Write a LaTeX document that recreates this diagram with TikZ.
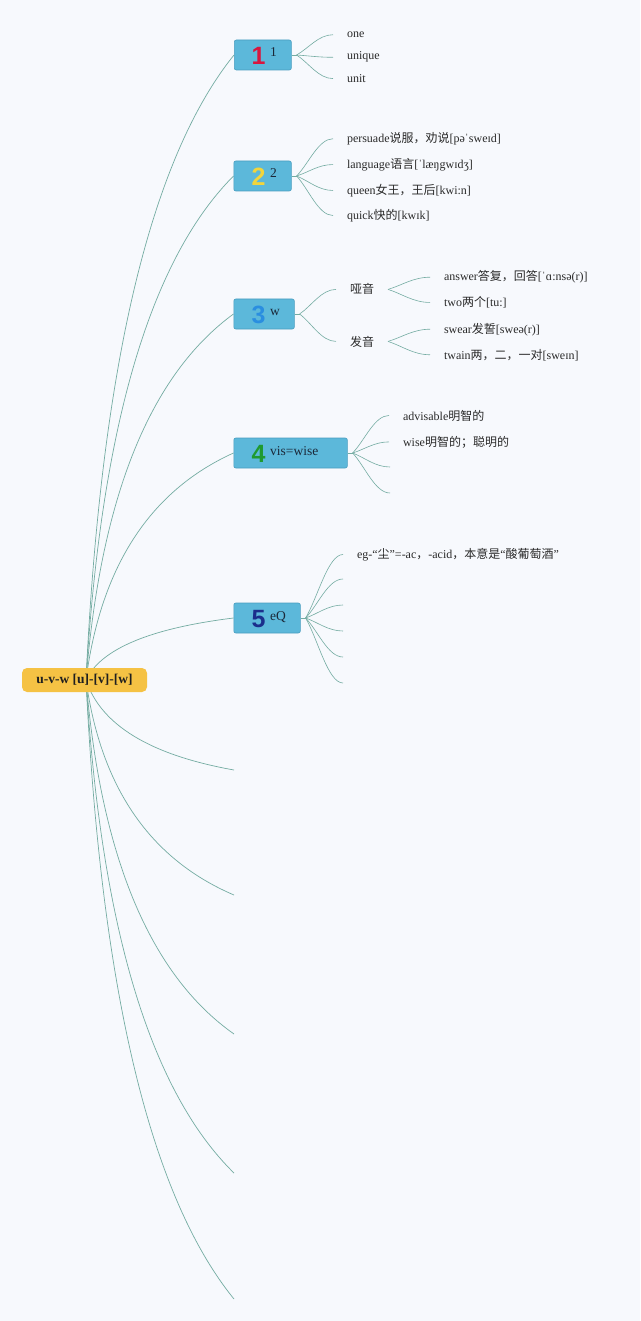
\documentclass[tikz,border=0pt]{standalone}
\usepackage{fontspec}
\setmainfont{Liberation Serif}
\newfontfamily\cjk{Noto Sans CJK SC}
\newfontfamily\digitfont{Liberation Sans}
\usetikzlibrary{calc}
\pgfdeclarelayer{bg}
\pgfdeclarelayer{edges}
\pgfsetlayers{bg,edges,main}
\definecolor{bgc}{HTML}{F7F9FD}
\definecolor{edgec}{HTML}{74ACA2}
\definecolor{boxc}{HTML}{5CB8DA}
\definecolor{boxd}{HTML}{4A9EC0}
\definecolor{rootc}{HTML}{F5C244}
\definecolor{txtc}{HTML}{2A2A2A}
\definecolor{lblc}{HTML}{1B2838}
\definecolor{dA}{HTML}{D8163F}
\definecolor{dB}{HTML}{F2D53C}
\definecolor{dC}{HTML}{2A8EE0}
\definecolor{dD}{HTML}{1F9A30}
\definecolor{dE}{HTML}{1B2F8C}
\begin{document}
\begin{tikzpicture}[x=1pt,y=-1pt,
  rootline/.style={draw=edgec, line width=0.7pt},
  subline/.style={draw=edgec, line width=0.6pt},
  rootedge/.style={
    to path={let \p1=(\tikztostart),\p2=(\tikztotarget) in
      .. controls ({\x1+0.1*(\x2-\x1)},{\y1+0.5*(\y2-\y1)})
      and ({\x1+0.4333*(\x2-\x1)},{\y1+0.8333*(\y2-\y1)}) .. (\tikztotarget)}},
  subedge/.style={
    to path={let \p1=(\tikztostart),\p2=(\tikztotarget) in
      .. controls ({\x1+0.33*(\x2-\x1)},{\y1+0.33*(\y2-\y1)})
      and ({\x1+0.6*(\x2-\x1)},{\y2}) .. (\tikztotarget)}},
  rootbox/.style={rectangle, rounded corners=5pt, fill=rootc, draw=none,
    minimum width=125pt, minimum height=24pt, inner sep=0pt,
    font=\fontsize{13.5}{15}\selectfont\bfseries, text=black!88},
  branchbox/.style={rectangle, rounded corners=2pt, fill=boxc, draw=boxd,
    line width=0.6pt, minimum height=30pt, inner sep=0pt, anchor=west},
  digit/.style={inner sep=0pt, font=\digitfont\fontsize{25}{25}\selectfont\bfseries},
  blabel/.style={inner sep=0pt, anchor=base west, text=lblc,
    font=\fontsize{13.5}{15}\selectfont},
  leaf/.style={inner xsep=14pt, inner ysep=0pt, outer sep=0pt, anchor=base west,
    text=txtc, font=\fontsize{12}{14}\selectfont}
]
\useasboundingbox (0,0) rectangle (640,1321);
\begin{pgfonlayer}{bg}
  \fill[bgc] (0,0) rectangle (640,1321);
\end{pgfonlayer}

% root
\node[rootbox] (root) at (84.5,680) {u-v-w [u]-[v]-[w]};
\coordinate (rc) at (86,680);

% branch boxes
\node[branchbox, minimum width=57pt] (b1) at (234,55) {};
\node[digit, text=dA] (d1) at (258.5,56) {1};
\node[blabel] (l1) at (270,57) {1};

\node[branchbox, minimum width=57.5pt] (b2) at (233.5,176) {};
\node[digit, text=dB] (d2) at (258.5,177) {2};
\node[blabel] (l2) at (270,178) {2};

\node[branchbox, minimum width=60.5pt] (b3) at (233.5,314) {};
\node[digit, text=dC] (d3) at (258.5,315) {3};
\node[blabel] (l3) at (270,316) {w};

\node[branchbox, minimum width=113.5pt] (b4) at (233.5,453) {};
\node[digit, text=dD] (d4) at (258.5,454) {4};
\node[blabel] (l4) at (270,455) {vis=wise};

\node[branchbox, minimum width=66.5pt] (b5) at (233.5,618) {};
\node[digit, text=dE] (d5) at (258.5,619) {5};
\node[blabel] (l5) at (270,620) {eQ};

% empty branch ends
\coordinate (e6) at (234,770);
\coordinate (e7) at (234,895);
\coordinate (e8) at (234,1034);
\coordinate (e9) at (234,1173);
\coordinate (e10) at (234,1299);

% junctions
\coordinate (j1) at ($(b1.east)+(5,0)$);
\coordinate (j2) at ($(b2.east)+(5,0)$);
\coordinate (j3) at ($(b3.east)+(5,0)$);
\coordinate (j4) at ($(b4.east)+(5,0)$);
\coordinate (j5) at ($(b5.east)+(5,0)$);

% leaves of 1
\node[leaf] (c11) at (333,37.5) {one};
\node[leaf] (c12) at (333,60) {unique};
\node[leaf] (c13) at (333,82.5) {unit};
% leaves of 2
\node[leaf] (c21) at (333,142.5) {persuade{\cjk 说服，劝说}[pəˈsweɪd]};
\node[leaf] (c22) at (333,168.3) {language{\cjk 语言}[ˈlæŋgwɪdʒ]};
\node[leaf] (c23) at (333,194.3) {queen{\cjk 女王，王后}[kwi:n]};
\node[leaf] (c24) at (333,219.3) {quick{\cjk 快的}[kwɪk]};
% 3
\node[leaf] (s31) at (336,294) {\cjk 哑音};
\node[leaf] (s32) at (336,346) {\cjk 发音};
\node[leaf] (c311) at (430,281) {answer{\cjk 答复，回答}[ˈɑ:nsə(r)]};
\node[leaf] (c312) at (430,306.7) {two{\cjk 两个}[tu:]};
\node[leaf] (c321) at (430,333) {swear{\cjk 发誓}[sweə(r)]};
\node[leaf] (c322) at (430,359) {twain{\cjk 两，二，一对}[sweɪn]};
% 4
\node[leaf] (c41) at (389,420) {advisable{\cjk 明智的}};
\node[leaf] (c42) at (389,446) {wise{\cjk 明智的；聪明的}};
\coordinate (c43) at (390,467);
\coordinate (c44) at (390,493);
% 5
\node[leaf] (c51) at (343,558.3) {eg-“{\cjk 尘}”=-ac{\cjk ，}-acid{\cjk ，本意是}“{\cjk 酸葡萄酒}”};
\coordinate (c52) at (343,579);
\coordinate (c53) at (343,605);
\coordinate (c54) at (343,631);
\coordinate (c55) at (343,657);
\coordinate (c56) at (343,683);

\begin{pgfonlayer}{edges}
  \foreach \t in {b1.west,b2.west,b3.west,b4.west,b5.west,e6,e7,e8,e9,e10}
    \draw[rootline] (rc) to[rootedge] (\t);
  \foreach \n in {1,2,3,4,5}
    \draw[subline] (b\n.east) -- (j\n);
  \foreach \t in {c11,c12,c13}
    \draw[subline] (j1) to[subedge] (\t.west);
  \foreach \t in {c21,c22,c23,c24}
    \draw[subline] (j2) to[subedge] (\t.west);
  \foreach \t in {s31,s32}
    \draw[subline] (j3) to[subedge] (\t.west);
  \foreach \t in {c311,c312}
    \draw[subline] (s31.east) to[subedge] (\t.west);
  \foreach \t in {c321,c322}
    \draw[subline] (s32.east) to[subedge] (\t.west);
  \foreach \t in {c41.west,c42.west,c43,c44}
    \draw[subline] (j4) to[subedge] (\t);
  \foreach \t in {c51.west,c52,c53,c54,c55,c56}
    \draw[subline] (j5) to[subedge] (\t);
\end{pgfonlayer}
\end{tikzpicture}
\end{document}
